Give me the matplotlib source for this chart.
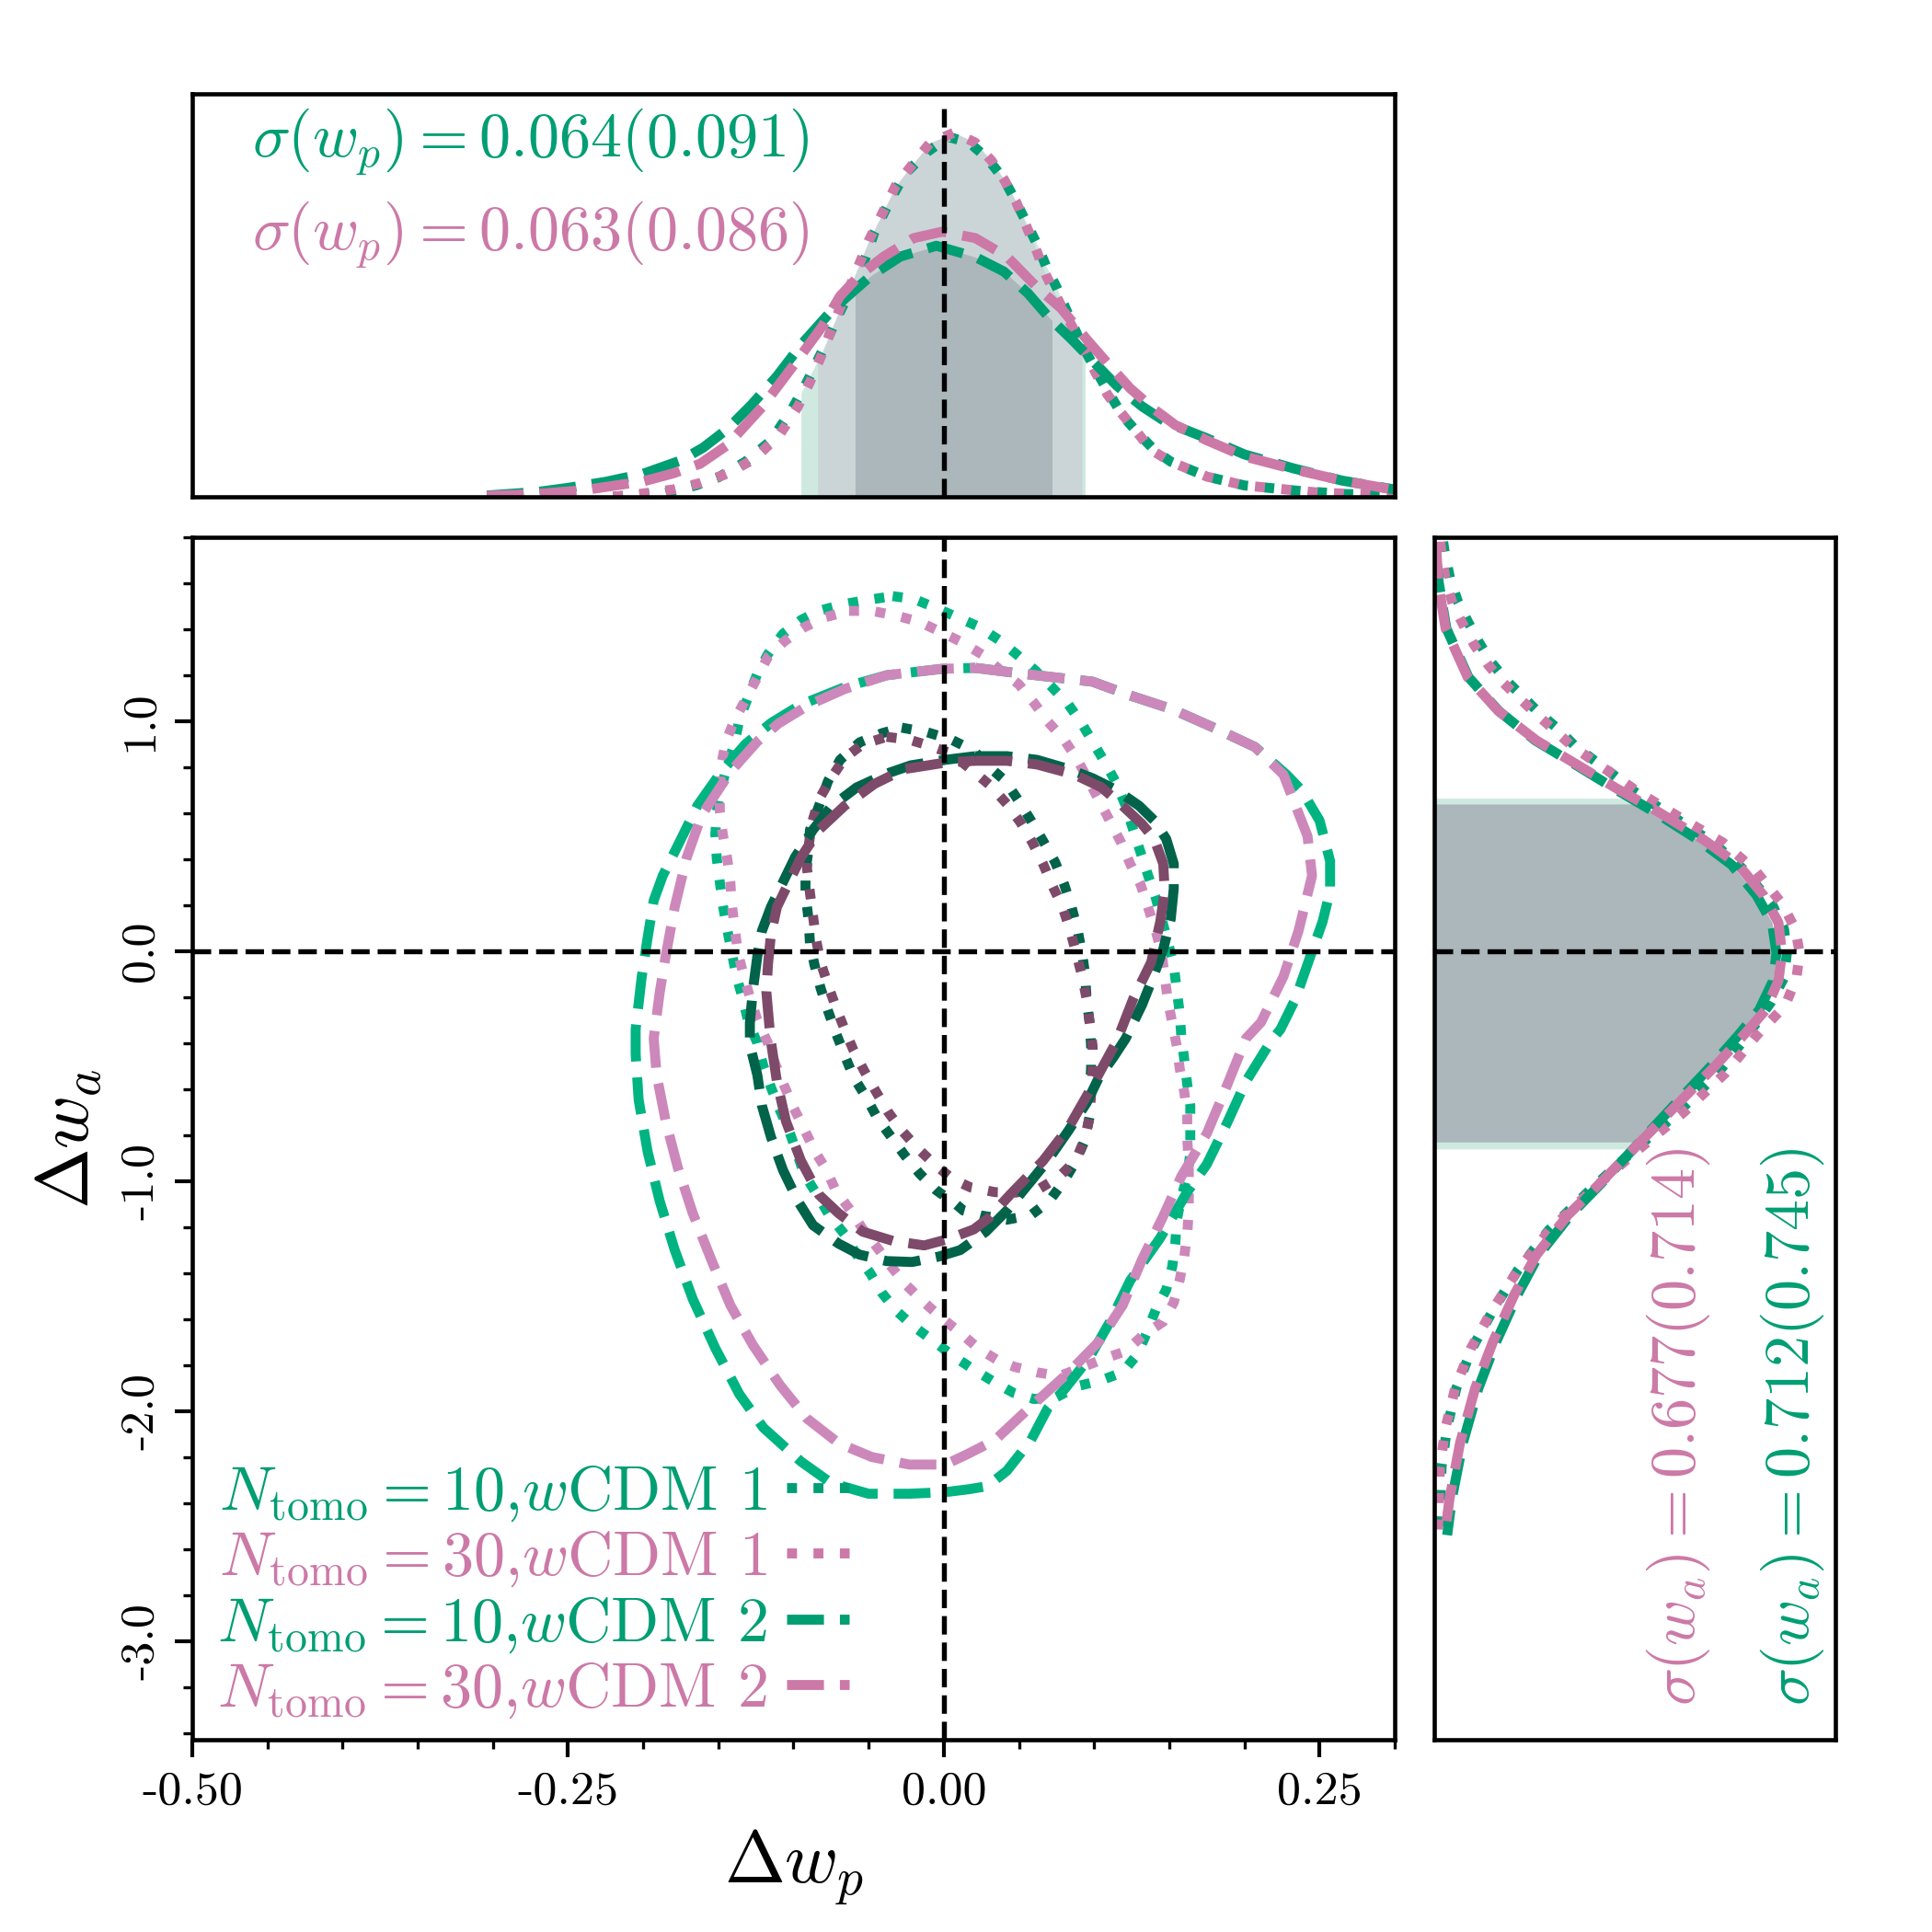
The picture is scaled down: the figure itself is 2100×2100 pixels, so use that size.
import numpy as np
import matplotlib
matplotlib.use("Agg")
import matplotlib.pyplot as plt
from matplotlib.lines import Line2D

plt.rcParams["font.family"] = "serif"
plt.rcParams["font.serif"] = ["cmr10"]
plt.rcParams["mathtext.fontset"] = "cm"
plt.rcParams["axes.unicode_minus"] = False

green = "#009E73"
pink = "#CC79A7"
green_c = "#00B482"
pink_c = "#CC88BB"
green_d = "#00634A"
pink_d = "#7E4A6A"

# ---- 2D contours (dw_p, dw_a) ----
# N=10, wCDM 2, outer
g2_out_x = [0.021, 0.048, 0.099, 0.124, 0.152, 0.181, 0.207, 0.228, 0.238, 0.250, 0.257, 0.257, 0.252, 0.244, 0.234, 0.224, 0.2175, 0.201, 0.189, 0.175, 0.162, 0.144, 0.124, 0.111, 0.097, 0.081, 0.069, 0.058, 0.042, 0.029, 0.017, 0.001, -0.023, -0.050, -0.075, -0.095, -0.120, -0.136, -0.152, -0.167, -0.179, -0.189, -0.197, -0.203, -0.205, -0.205, -0.201, -0.197, -0.193, -0.187, -0.176, -0.164, -0.148, -0.132, -0.115, -0.095, -0.066, -0.038, -0.001]
g2_out_y = [1.232, 1.21, 1.172, 1.112, 1.052, 0.968, 0.888, 0.768, 0.70, 0.568, 0.392, 0.26, 0.128, -0.02, -0.207, -0.34, -0.393, -0.567, -0.74, -0.927, -1.047, -1.247, -1.433, -1.607, -1.767, -1.90, -1.99, -2.127, -2.26, -2.327, -2.34, -2.353, -2.36, -2.36, -2.313, -2.22, -2.073, -1.927, -1.727, -1.513, -1.30, -1.087, -0.873, -0.647, -0.447, -0.34, -0.113, 0.06, 0.22, 0.328, 0.472, 0.632, 0.78, 0.90, 0.992, 1.072, 1.148, 1.20, 1.228]
# N=30, wCDM 2, outer
p2_out_x = [0.021, 0.048, 0.099, 0.124, 0.152, 0.181, 0.207, 0.226, 0.230, 0.242, 0.245, 0.236, 0.226, 0.211, 0.201, 0.187, 0.175, 0.158, 0.146, 0.132, 0.119, 0.103, 0.083, 0.058, 0.034, 0.015, 0.001, -0.023, -0.048, -0.070, -0.091, -0.109, -0.127, -0.142, -0.154, -0.167, -0.177, -0.185, -0.191, -0.193, -0.189, -0.185, -0.179, -0.171, -0.161, -0.142, -0.124, -0.110, -0.090, -0.066, -0.038, -0.001]
p2_out_y = [1.232, 1.21, 1.172, 1.112, 1.052, 0.968, 0.888, 0.768, 0.70, 0.50, 0.328, 0.088, -0.11, -0.31, -0.38, -0.607, -0.793, -0.98, -1.153, -1.34, -1.54, -1.70, -1.833, -1.98, -2.127, -2.19, -2.233, -2.233, -2.2, -2.14, -2.033, -1.887, -1.713, -1.54, -1.353, -1.14, -0.94, -0.74, -0.54, -0.38, -0.18, -0.02, 0.192, 0.408, 0.592, 0.78, 0.912, 0.99, 1.07, 1.14, 1.20, 1.228]
# N=10, wCDM 1, outer
g1_out_x = [-0.034, -0.020, -0.005, 0.009, 0.023, 0.037, 0.049, 0.061, 0.072, 0.083, 0.092, 0.100, 0.108, 0.115, 0.121, 0.126, 0.131, 0.136, 0.141, 0.145, 0.149, 0.153, 0.155, 0.157, 0.158, 0.160, 0.162, 0.164, 0.164, 0.164, 0.162, 0.158, 0.155, 0.154, 0.152, 0.148, 0.141, 0.135, 0.129, 0.119, 0.104, 0.089, 0.075, 0.060, 0.046, 0.032, 0.020, 0.006, -0.006, -0.020, -0.031, -0.041, -0.049, -0.058, -0.066, -0.077, -0.085, -0.093, -0.098, -0.103, -0.109, -0.115, -0.120, -0.124, -0.130, -0.134, -0.138, -0.141, -0.144, -0.147, -0.149, -0.151, -0.152, -0.151, -0.148, -0.144, -0.139, -0.136, -0.130, -0.124, -0.117, -0.107, -0.095, -0.083, -0.066, -0.050]
g1_out_y = [1.544, 1.532, 1.492, 1.452, 1.412, 1.352, 1.288, 1.22, 1.148, 1.072, 0.988, 0.90, 0.812, 0.728, 0.632, 0.528, 0.428, 0.328, 0.232, 0.14, 0.04, -0.06, -0.168, -0.272, -0.368, -0.472, -0.58, -0.672, -0.78, -0.88, -0.98, -1.072, -1.172, -1.272, -1.372, -1.472, -1.56, -1.66, -1.752, -1.832, -1.868, -1.892, -1.94, -1.948, -1.92, -1.868, -1.82, -1.76, -1.70, -1.632, -1.568, -1.488, -1.40, -1.32, -1.232, -1.14, -1.052, -0.968, -0.872, -0.78, -0.692, -0.592, -0.50, -0.40, -0.308, -0.20, -0.108, -0.008, 0.092, 0.20, 0.30, 0.40, 0.508, 0.608, 0.712, 0.808, 0.908, 1.008, 1.108, 1.208, 1.292, 1.38, 1.44, 1.48, 1.51, 1.528]
# N=30, wCDM 1, outer
p1_out_x = [-0.063, -0.048, -0.032, -0.016, -0.002, 0.012, 0.026, 0.038, 0.050, 0.060, 0.069, 0.080, 0.089, 0.096, 0.103, 0.111, 0.118, 0.124, 0.131, 0.136, 0.141, 0.145, 0.147, 0.149, 0.152, 0.155, 0.157, 0.160, 0.162, 0.162, 0.163, 0.163, 0.163, 0.162, 0.160, 0.157, 0.153, 0.146, 0.133, 0.121, 0.107, 0.092, 0.077, 0.062, 0.047, 0.036, 0.023, 0.011, -0.002, -0.013, -0.025, -0.035, -0.044, -0.054, -0.062, -0.072, -0.078, -0.086, -0.093, -0.100, -0.106, -0.112, -0.117, -0.124, -0.129, -0.133, -0.137, -0.139, -0.141, -0.142, -0.144, -0.147, -0.149, -0.149, -0.148, -0.145, -0.139, -0.132, -0.124, -0.117, -0.106, -0.093, -0.079]
p1_out_y = [1.48, 1.48, 1.46, 1.432, 1.388, 1.344, 1.288, 1.22, 1.16, 1.08, 1.00, 0.92, 0.832, 0.745, 0.66, 0.56, 0.472, 0.38, 0.288, 0.188, 0.088, -0.01, -0.112, -0.212, -0.312, -0.412, -0.512, -0.612, -0.72, -0.82, -0.928, -1.028, -1.128, -1.228, -1.328, -1.428, -1.528, -1.612, -1.668, -1.74, -1.772, -1.81, -1.848, -1.832, -1.808, -1.78, -1.728, -1.66, -1.592, -1.528, -1.452, -1.372, -1.292, -1.208, -1.128, -1.04, -0.952, -0.868, -0.772, -0.68, -0.588, -0.492, -0.40, -0.30, -0.20, -0.108, -0.008, 0.10, 0.20, 0.30, 0.40, 0.508, 0.608, 0.708, 0.812, 0.912, 1.008, 1.092, 1.192, 1.28, 1.348, 1.408, 1.452]
# N=10, wCDM 2, inner
g2_in_x = [0.021, 0.042, 0.062, 0.083, 0.099, 0.115, 0.130, 0.140, 0.148, 0.153, 0.153, 0.151, 0.146, 0.140, 0.132, 0.121, 0.113, 0.103, 0.095, 0.083, 0.069, 0.054, 0.042, 0.028, 0.011, -0.003, -0.021, -0.038, -0.056, -0.070, -0.087, -0.097, -0.107, -0.115, -0.121, -0.124, -0.129, -0.129, -0.127, -0.124, -0.121, -0.115, -0.107, -0.099, -0.087, -0.075, -0.058, -0.038, -0.022, 0.001]
g2_in_y = [0.848, 0.848, 0.832, 0.792, 0.752, 0.70, 0.632, 0.568, 0.488, 0.38, 0.272, 0.14, 0.008, -0.10, -0.232, -0.38, -0.46, -0.552, -0.66, -0.78, -0.912, -1.032, -1.128, -1.22, -1.30, -1.328, -1.352, -1.348, -1.32, -1.272, -1.192, -1.088, -0.952, -0.808, -0.672, -0.54, -0.408, -0.312, -0.168, -0.02, 0.088, 0.192, 0.30, 0.408, 0.528, 0.628, 0.712, 0.772, 0.808, 0.832]
# N=30, wCDM 2, inner
p2_in_x = [0.021, 0.042, 0.062, 0.087, 0.105, 0.119, 0.132, 0.140, 0.146, 0.147, 0.144, 0.138, 0.126, 0.115, 0.097, 0.083, 0.066, 0.044, 0.030, 0.020, 0.003, -0.013, -0.034, -0.054, -0.070, -0.083, -0.095, -0.105, -0.111, -0.115, -0.116, -0.118, -0.117, -0.115, -0.111, -0.103, -0.095, -0.083, -0.066, -0.046, -0.026, 0.001]
p2_in_y = [0.828, 0.828, 0.812, 0.768, 0.712, 0.632, 0.552, 0.488, 0.38, 0.26, 0.128, -0.048, -0.208, -0.392, -0.608, -0.768, -0.912, -1.06, -1.16, -1.21, -1.252, -1.28, -1.26, -1.22, -1.14, -1.06, -0.912, -0.74, -0.568, -0.392, -0.328, -0.18, -0.06, 0.072, 0.192, 0.30, 0.408, 0.528, 0.632, 0.728, 0.792, 0.82]
# N=10, wCDM 1, inner
g1_in_x = [-0.028, -0.011, 0.005, 0.020, 0.029, 0.041, 0.050, 0.058, 0.066, 0.074, 0.080, 0.085, 0.089, 0.092, 0.094, 0.095, 0.097, 0.098, 0.098, 0.097, 0.097, 0.094, 0.088, 0.080, 0.070, 0.058, 0.042, 0.025, 0.013, 0.008, -0.005, -0.016, -0.026, -0.035, -0.044, -0.052, -0.060, -0.066, -0.072, -0.077, -0.082, -0.086, -0.089, -0.090, -0.092, -0.092, -0.090, -0.089, -0.083, -0.077, -0.069, -0.056, -0.041]
g1_in_y = [0.972, 0.952, 0.92, 0.872, 0.808, 0.74, 0.652, 0.568, 0.48, 0.388, 0.292, 0.192, 0.092, -0.008, -0.10, -0.208, -0.308, -0.412, -0.512, -0.62, -0.72, -0.82, -0.912, -1.00, -1.088, -1.148, -1.168, -1.15, -1.128, -1.10, -1.04, -0.968, -0.888, -0.808, -0.728, -0.632, -0.548, -0.452, -0.352, -0.26, -0.16, -0.06, 0.032, 0.14, 0.248, 0.348, 0.44, 0.528, 0.632, 0.74, 0.832, 0.908, 0.948]
# N=30, wCDM 1, inner
p1_in_x = [-0.038, -0.023, -0.009, 0.005, 0.020, 0.031, 0.042, 0.051, 0.059, 0.066, 0.072, 0.079, 0.084, 0.088, 0.092, 0.095, 0.097, 0.099, 0.099, 0.098, 0.097, 0.094, 0.088, 0.077, 0.064, 0.048, 0.034, 0.018, 0.006, -0.006, -0.017, -0.028, -0.037, -0.045, -0.053, -0.060, -0.066, -0.072, -0.077, -0.082, -0.085, -0.087, -0.089, -0.091, -0.090, -0.088, -0.083, -0.075, -0.066, -0.054]
p1_in_y = [0.932, 0.92, 0.892, 0.86, 0.78, 0.72, 0.64, 0.56, 0.472, 0.38, 0.288, 0.192, 0.092, -0.008, -0.108, -0.208, -0.31, -0.412, -0.512, -0.62, -0.72, -0.812, -0.908, -0.98, -1.032, -1.05, -1.048, -1.028, -0.992, -0.928, -0.86, -0.78, -0.70, -0.612, -0.52, -0.432, -0.34, -0.24, -0.148, -0.048, 0.052, 0.152, 0.252, 0.36, 0.45, 0.552, 0.66, 0.752, 0.84, 0.90]

# ---- 1D marginal of dw_p (relative height) ----
g1_wp_x = [-0.22, -0.185, -0.165, -0.150, -0.132, -0.115, -0.101, -0.091, -0.081, -0.072, -0.064, -0.054, -0.046, -0.036, -0.026, -0.011, 0.003, 0.017, 0.029, 0.040, 0.048, 0.055, 0.062, 0.068, 0.075, 0.081, 0.091, 0.101, 0.109, 0.119, 0.128, 0.140, 0.151, 0.175, 0.20, 0.235, 0.266, 0.30]
g1_wp_p = [0.0, 0.01, 0.028, 0.048, 0.087, 0.139, 0.217, 0.285, 0.361, 0.436, 0.498, 0.573, 0.658, 0.733, 0.801, 0.856, 0.893, 0.879, 0.840, 0.788, 0.733, 0.680, 0.627, 0.573, 0.520, 0.468, 0.384, 0.315, 0.263, 0.201, 0.163, 0.116, 0.087, 0.05, 0.028, 0.015, 0.007, 0.003]
p1_wp_x = [-0.22, -0.20, -0.18, -0.162, -0.144, -0.126, -0.109, -0.097, -0.089, -0.081, -0.075, -0.069, -0.060, -0.050, -0.040, -0.032, -0.021, -0.009, 0.007, 0.021, 0.032, 0.040, 0.048, 0.054, 0.060, 0.068, 0.078, 0.090, 0.101, 0.109, 0.118, 0.128, 0.138, 0.151, 0.175, 0.20, 0.25, 0.30]
p1_wp_p = [0.0, 0.008, 0.018, 0.034, 0.057, 0.094, 0.155, 0.224, 0.285, 0.354, 0.413, 0.468, 0.543, 0.635, 0.710, 0.772, 0.824, 0.879, 0.904, 0.879, 0.833, 0.788, 0.733, 0.680, 0.627, 0.55, 0.475, 0.39, 0.308, 0.253, 0.208, 0.163, 0.116, 0.087, 0.05, 0.028, 0.01, 0.003]
g2_wp_x = [-0.304, -0.27, -0.25, -0.225, -0.20, -0.175, -0.160, -0.144, -0.128, -0.111, -0.095, -0.077, -0.066, -0.048, -0.029, -0.005, 0.021, 0.040, 0.056, 0.070, 0.085, 0.097, 0.115, 0.132, 0.148, 0.175, 0.20, 0.233, 0.265, 0.30]
g2_wp_p = [0.003, 0.012, 0.022, 0.037, 0.057, 0.09, 0.122, 0.168, 0.228, 0.299, 0.377, 0.452, 0.491, 0.550, 0.596, 0.623, 0.595, 0.559, 0.505, 0.445, 0.391, 0.345, 0.276, 0.224, 0.185, 0.145, 0.105, 0.07, 0.04, 0.018]
p2_wp_x = [-0.304, -0.27, -0.24, -0.20, -0.18, -0.162, -0.144, -0.121, -0.099, -0.081, -0.069, -0.056, -0.040, -0.020, -0.001, 0.021, 0.042, 0.062, 0.078, 0.095, 0.109, 0.124, 0.140, 0.154, 0.175, 0.20, 0.233, 0.265, 0.30]
p2_wp_p = [0.002, 0.007, 0.016, 0.038, 0.058, 0.082, 0.128, 0.222, 0.331, 0.422, 0.498, 0.550, 0.596, 0.642, 0.658, 0.642, 0.596, 0.520, 0.468, 0.391, 0.331, 0.269, 0.217, 0.178, 0.14, 0.10, 0.068, 0.04, 0.017]

# ---- 1D marginal of dw_a (relative height) ----
g2_wa_y = [1.72, 1.604, 1.404, 1.192, 1.044, 0.916, 0.812, 0.704, 0.604, 0.484, 0.376, 0.244, 0.124, -0.008, -0.128, -0.256, -0.364, -0.50, -0.668, -0.84, -1.012, -1.148, -1.32, -1.492, -1.696, -1.90, -2.14, -2.38, -2.54]
g2_wa_p = [0.004, 0.011, 0.030, 0.085, 0.161, 0.252, 0.351, 0.452, 0.550, 0.658, 0.741, 0.803, 0.842, 0.853, 0.845, 0.810, 0.759, 0.690, 0.599, 0.507, 0.415, 0.339, 0.261, 0.208, 0.155, 0.110, 0.071, 0.044, 0.032]
p2_wa_y = [1.78, 1.60, 1.404, 1.192, 1.044, 0.916, 0.812, 0.704, 0.604, 0.484, 0.376, 0.244, 0.124, -0.008, -0.128, -0.256, -0.364, -0.50, -0.668, -0.84, -1.012, -1.148, -1.32, -1.492, -1.696, -1.90, -2.14, -2.38, -2.54]
p2_wa_p = [0.004, 0.010, 0.028, 0.083, 0.160, 0.255, 0.355, 0.458, 0.560, 0.672, 0.758, 0.820, 0.858, 0.867, 0.858, 0.826, 0.772, 0.700, 0.605, 0.508, 0.412, 0.333, 0.255, 0.200, 0.147, 0.102, 0.064, 0.038, 0.026]
g1_wa_y = [1.78, 1.724, 1.624, 1.524, 1.432, 1.344, 1.256, 1.176, 1.104, 1.032, 0.964, 0.892, 0.832, 0.772, 0.696, 0.584, 0.472, 0.352, 0.204, 0.096, -0.008, -0.116, -0.22, -0.364, -0.532, -0.704, -0.876, -1.044, -1.216, -1.388, -1.56, -1.728, -1.90, -2.072, -2.244, -2.48, -2.54]
g1_wa_p = [0.022, 0.027, 0.039, 0.058, 0.084, 0.111, 0.142, 0.180, 0.222, 0.264, 0.310, 0.351, 0.397, 0.443, 0.497, 0.596, 0.695, 0.773, 0.842, 0.872, 0.879, 0.872, 0.840, 0.782, 0.706, 0.606, 0.491, 0.385, 0.284, 0.208, 0.147, 0.094, 0.055, 0.032, 0.018, 0.014, 0.012]
p1_wa_y = [1.78, 1.70, 1.60, 1.50, 1.41, 1.33, 1.25, 1.17, 1.10, 1.03, 0.96, 0.89, 0.83, 0.77, 0.696, 0.584, 0.472, 0.352, 0.204, 0.096, -0.008, -0.116, -0.236, -0.364, -0.532, -0.704, -0.876, -1.044, -1.216, -1.388, -1.56, -1.728, -1.90, -2.072, -2.244, -2.48, -2.54]
p1_wa_p = [0.015, 0.020, 0.030, 0.048, 0.075, 0.100, 0.132, 0.170, 0.212, 0.255, 0.300, 0.345, 0.395, 0.445, 0.505, 0.61, 0.72, 0.80, 0.868, 0.900, 0.911, 0.903, 0.875, 0.805, 0.725, 0.620, 0.500, 0.390, 0.286, 0.208, 0.145, 0.091, 0.052, 0.028, 0.014, 0.010, 0.008]

# credible intervals used for the shading
wp_95_g = (-0.095, 0.094)
wp_95_p = (-0.084, 0.092)
wp_68 = (-0.059, 0.072)
wa_95 = (-0.86, 0.665)
wa_68 = (-0.83, 0.64)

legend_labels = [r"$N_{\rm tomo}=10$,$w$CDM 1", r"$N_{\rm tomo}=30$,$w$CDM 1",
                 r"$N_{\rm tomo}=10$,$w$CDM 2", r"$N_{\rm tomo}=30$,$w$CDM 2"]
sig_wp = [r"$\sigma(w_p) = 0.064(0.091)$", r"$\sigma(w_p) = 0.063(0.086)$"]
sig_wa = [r"$\sigma(w_a) = 0.677(0.714)$", r"$\sigma(w_a) = 0.712(0.745)$"]

xticks = [-0.5, -0.25, 0.0, 0.25]
xticklabels = ["-0.50", "-0.25", "0.00", "0.25"]
yticks = [-3.0, -2.0, -1.0, 0.0, 1.0]
yticklabels = ["-3.0", "-2.0", "-1.0", "0.0", "1.0"]

lw = 2.6

fig = plt.figure(figsize=(7, 7), dpi=300)
ax = fig.add_axes([0.0995, 0.0995, 0.6224, 0.6224])
axt = fig.add_axes([0.0995, 0.7429, 0.6224, 0.2085])
axr = fig.add_axes([0.7424, 0.0995, 0.2076, 0.6224])


def closed(a):
    return np.append(a, a[0])


#---------------- main panel
ax.plot(closed(g1_out_x), closed(g1_out_y), ls=":", color=green_c, lw=lw)
ax.plot(closed(p1_out_x), closed(p1_out_y), ls=":", color=pink_c, lw=lw)
ax.plot(closed(g2_out_x), closed(g2_out_y), ls="--", color=green_c, lw=lw)
ax.plot(closed(p2_out_x), closed(p2_out_y), ls="--", color=pink_c, lw=lw)
ax.plot(closed(g1_in_x), closed(g1_in_y), ls=":", color=green_d, lw=lw)
ax.plot(closed(p1_in_x), closed(p1_in_y), ls=":", color=pink_d, lw=lw)
ax.plot(closed(g2_in_x), closed(g2_in_y), ls="--", color=green_d, lw=lw)
ax.plot(closed(p2_in_x), closed(p2_in_y), ls="--", color=pink_d, lw=lw)

ax.axvline(0, color="k", ls="--", lw=1.3, zorder=5)
ax.axhline(0, color="k", ls="--", lw=1.3, zorder=5)

ax.set_xlim(-0.5, 0.3)
ax.set_ylim(-3.43, 1.8)
ax.set_xticks(xticks)
ax.set_xticklabels(xticklabels, fontsize=12.5)
ax.set_yticks(yticks)
ax.set_yticklabels(yticklabels, fontsize=12.5, rotation=90, va="center")
ax.set_xticks(np.arange(-0.5, 0.31, 0.05), minor=True)
ax.set_yticks(np.arange(-3.4, 1.81, 0.2), minor=True)
ax.tick_params(which="major", direction="out", length=4.5, width=1.0)
ax.tick_params(which="minor", direction="out", length=2.5, width=0.8)
ax.set_xlabel(r"$\Delta w_p$", fontsize=19)
ax.set_ylabel(r"$\Delta w_a$", fontsize=19)

handles = [Line2D([], [], ls=":", color=green, lw=lw),
           Line2D([], [], ls=":", color=pink, lw=lw),
           Line2D([], [], ls="--", color=green, lw=lw),
           Line2D([], [], ls="--", color=pink, lw=lw)]
leg = ax.legend(handles, legend_labels, loc="lower left", bbox_to_anchor=(-0.021, -0.026),
                frameon=False, markerfirst=False, fontsize=16.4, handlelength=1.0,
                handletextpad=0.3, labelspacing=0.1, borderpad=0.3)
for t, c in zip(leg.get_texts(), [green, pink, green, pink]):
    t.set_color(c)

#---------------- top panel: dw_p
gx = np.linspace(wp_95_g[0], wp_95_g[1], 200)
axt.fill_between(gx, np.interp(gx, g1_wp_x, g1_wp_p), color="#cfe9e0", lw=0)
px = np.linspace(wp_95_p[0], wp_95_p[1], 200)
axt.fill_between(px, np.interp(px, p1_wp_x, p1_wp_p), color="#cbd5d8", lw=0)
ix = np.linspace(wp_68[0], wp_68[1], 200)
axt.fill_between(ix, np.interp(ix, g2_wp_x, g2_wp_p), color="#abb7ba", lw=0)

axt.plot(g1_wp_x, g1_wp_p, ls=":", color=green, lw=lw)
axt.plot(p1_wp_x, p1_wp_p, ls=":", color=pink, lw=lw)
axt.plot(g2_wp_x, g2_wp_p, ls="--", color=green, lw=lw)
axt.plot(p2_wp_x, p2_wp_p, ls="--", color=pink, lw=lw)
axt.axvline(0, color="k", ls="--", lw=1.3, ymax=0.98)

axt.text(-0.46, 0.88, sig_wp[0], color=green, fontsize=16.4, va="center", ha="left")
axt.text(-0.46, 0.65, sig_wp[1], color=pink, fontsize=16.4, va="center", ha="left")
axt.set_xlim(-0.5, 0.3)
axt.set_ylim(0, 1.0)
axt.set_xticks([])
axt.set_yticks([])

#---------------- right panel: dw_a
gy = np.linspace(wa_95[0], wa_95[1], 300)
axr.fill_betweenx(gy, np.interp(gy, g2_wa_y[::-1], g2_wa_p[::-1]), color="#cfe9e0", lw=0)
iy = np.linspace(wa_68[0], wa_68[1], 300)
axr.fill_betweenx(iy, np.interp(iy, g2_wa_y[::-1], g2_wa_p[::-1]), color="#abb7ba", lw=0)

axr.plot(g1_wa_p, g1_wa_y, ls=":", color=green, lw=lw)
axr.plot(p1_wa_p, p1_wa_y, ls=":", color=pink, lw=lw)
axr.plot(g2_wa_p, g2_wa_y, ls="--", color=green, lw=lw)
axr.plot(p2_wa_p, p2_wa_y, ls="--", color=pink, lw=lw)
axr.axhline(0, color="k", ls="--", lw=1.3)

axr.text(0.608, -3.28, sig_wa[0], color=pink, fontsize=16.4, rotation=90, ha="center", va="bottom")
axr.text(0.893, -3.28, sig_wa[1], color=green, fontsize=16.4, rotation=90, ha="center", va="bottom")
axr.set_ylim(-3.43, 1.8)
axr.set_xlim(0, 1.0)
axr.set_xticks([])
axr.set_yticks([])

for a in (ax, axt, axr):
    for s in a.spines.values():
        s.set_linewidth(1.1)

fig.savefig("out.png", dpi=300)
